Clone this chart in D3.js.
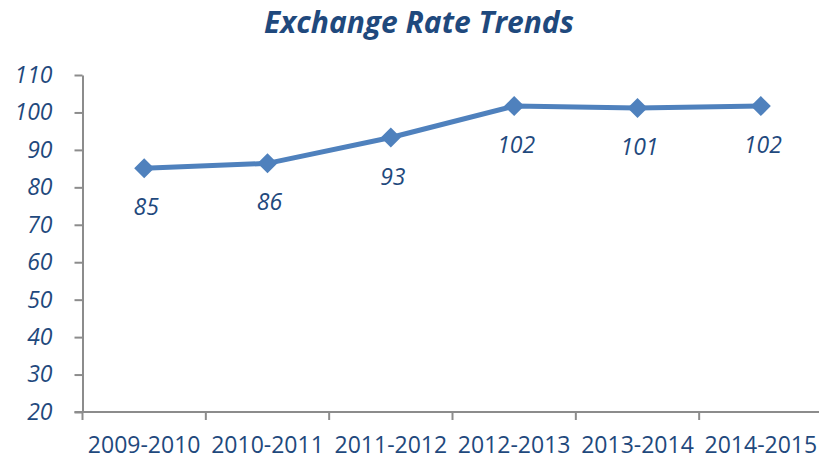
<!DOCTYPE html>
<html>
<head>
<meta charset="utf-8">
<script src="https://cdn.jsdelivr.net/npm/d3@7"></script>
<style>
    body { margin: 0; background: #fff; }
    svg { display: block; font-family: "Open Sans", sans-serif; }
</style>
</head>
<body>
<svg id="chart"></svg>
<script>
// data
const periods = ["2009-2010", "2010-2011", "2011-2012", "2012-2013", "2013-2014", "2014-2015"]
const rates = [85.1, 86.4, 93.3, 101.7, 101.2, 101.7]
const rateLabels = ["85", "86", "93", "102", "101", "102"]
const yTicks = [20, 30, 40, 50, 60, 70, 80, 90, 100, 110]
const chartTitle = "Exchange Rate Trends"

const width = 819
const height = 458
const margin = { top: 75, bottom: 46, left: 82.5, right: -3.5 }

const textColor = "#1F497D"
const lineColor = "#4F81BD"
const axisColor = "#8C8C8C"
const font = "'Open Sans', sans-serif"

let svg = d3.select("#chart").attr("width", width).attr("height", height)

let x = d3.scaleBand()
    .domain(periods)
    .range([margin.left, width - margin.right])

let y = d3.scaleLinear()
    .domain([20, 110])
    .range([height - margin.bottom, margin.top])

// title
svg.append("text")
    .attr("x", 419)
    .attr("y", 33)
    .attr("text-anchor", "middle")
    .style("font-size", "30px")
    .style("font-weight", "bold")
    .style("font-style", "italic")
    .style("fill", textColor)
    .text(chartTitle)

// y axis
let yAxis = svg.append("g")
    .attr("transform", `translate(${margin.left}, 0)`)
    .call(d3.axisLeft(y).tickValues(yTicks).tickSize(8).tickPadding(22).tickSizeOuter(0))
yAxis.select(".domain").attr("stroke", axisColor).attr("stroke-width", 2)
yAxis.selectAll(".tick line").attr("stroke", axisColor).attr("stroke-width", 2)
yAxis.selectAll("text")
    .style("font-size", "23px")
    .style("font-style", "italic")
    .style("font-family", font)
    .attr("fill", textColor)

// x axis: labels centred in bands, ticks on band edges
let xAxis = svg.append("g")
    .attr("transform", `translate(0, ${y(20)})`)
    .call(d3.axisBottom(x).tickSize(0).tickSizeOuter(0))
xAxis.select(".domain").remove()
xAxis.selectAll("text")
    .attr("y", 41)
    .attr("dy", null)
    .style("font-size", "23px")
    .style("font-family", font)
    .attr("fill", textColor)

xAxis.append("line")
    .attr("x1", margin.left - 8)
    .attr("x2", width)
    .attr("stroke", axisColor)
    .attr("stroke-width", 2)

xAxis.selectAll(".edge-tick").data(periods).join("line")
    .attr("class", "edge-tick")
    .attr("x1", d => x(d))
    .attr("x2", d => x(d))
    .attr("y1", 0)
    .attr("y2", 8)
    .attr("stroke", axisColor)
    .attr("stroke-width", 2)

// line
let cx = d => x(d) + x.bandwidth() / 2
let line = d3.line()
    .x((d, i) => cx(periods[i]))
    .y(d => y(d))

svg.append("path")
    .datum(rates)
    .attr("d", line)
    .attr("fill", "none")
    .attr("stroke", lineColor)
    .attr("stroke-width", 5)
    .attr("stroke-linejoin", "round")

// diamond markers
let diamond = d3.symbol().type(d3.symbolSquare).size(200)
svg.selectAll(".marker").data(rates).join("path")
    .attr("class", "marker")
    .attr("d", diamond)
    .attr("transform", (d, i) => `translate(${cx(periods[i])}, ${y(d)}) rotate(45)`)
    .attr("fill", lineColor)

// value labels below points
svg.selectAll(".value-label").data(rates).join("text")
    .attr("class", "value-label")
    .attr("x", (d, i) => cx(periods[i]) + 2)
    .attr("y", d => y(d) + 47)
    .attr("text-anchor", "middle")
    .style("font-size", "23px")
    .style("font-style", "italic")
    .style("fill", textColor)
    .text((d, i) => rateLabels[i])
</script>
</body>
</html>
